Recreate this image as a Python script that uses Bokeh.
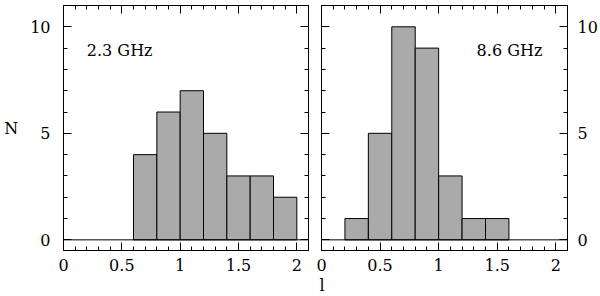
from bokeh.plotting import figure
from bokeh.layouts import row
from bokeh.models import Range1d, FixedTicker, LinearAxis, Span, Label, Title, ColumnDataSource
from bokeh.embed import file_html
from bokeh.resources import INLINE

# ---- data ----
bin_left = [0.0, 0.2, 0.4, 0.6, 0.8, 1.0, 1.2, 1.4, 1.6, 1.8]
bin_right = [0.2, 0.4, 0.6, 0.8, 1.0, 1.2, 1.4, 1.6, 1.8, 2.0]
counts_23 = [0, 0, 0, 4, 6, 7, 5, 3, 3, 2]
counts_86 = [0, 1, 5, 10, 9, 3, 1, 1, 0, 0]
panel_titles = ["2.3 GHz", "8.6 GHz"]

x_major = [0, 0.5, 1, 1.5, 2]
x_major_labels = ["0", "0.5", "1", "1.5", "2"]
x_minor = [0.1, 0.2, 0.3, 0.4, 0.6, 0.7, 0.8, 0.9, 1.1, 1.2, 1.3, 1.4,
           1.6, 1.7, 1.8, 1.9, 2.1]
y_major = [0, 5, 10]
y_major_labels = ["0", "5", "10"]
y_minor = [1, 2, 3, 4, 6, 7, 8, 9, 11]

FONT = "DejaVu Serif"
FILL = "#aaaaaa"
H = 296


def style_axis(ax, ticks, labels, minor, show, standoff):
    ax.ticker = FixedTicker(ticks=ticks, minor_ticks=minor)
    ax.major_label_overrides = {t: l for t, l in zip(ticks, labels)}
    ax.major_tick_in = 8
    ax.major_tick_out = 0
    ax.minor_tick_in = 4
    ax.minor_tick_out = 0
    ax.axis_line_color = "black"
    ax.major_tick_line_color = "black"
    ax.minor_tick_line_color = "black"
    ax.major_label_text_font = FONT
    ax.major_label_text_font_size = "16px"
    if show:
        ax.major_label_text_color = "black"
        ax.major_label_standoff = standoff
    else:
        ax.major_label_text_color = None
        ax.major_label_standoff = 0


def make_panel(counts, title, width, mbl, mbr, left_labels, right_labels, title_x, title_align):
    p = figure(width=width, height=H,
               x_range=Range1d(0, 2.1), y_range=Range1d(-0.5, 11),
               output_backend="svg", toolbar_location=None,
               min_border_left=mbl, min_border_right=mbr,
               min_border_top=5, min_border_bottom=46)
    p.xgrid.visible = False
    p.ygrid.visible = False
    p.outline_line_color = "black"
    p.background_fill_color = "white"
    p.border_fill_color = "white"

    style_axis(p.xaxis[0], x_major, x_major_labels, x_minor, True, 8)
    style_axis(p.yaxis[0], y_major, y_major_labels, y_minor, left_labels, 13)

    top = LinearAxis()
    style_axis(top, x_major, x_major_labels, x_minor, False, 0)
    p.add_layout(top, "above")
    right = LinearAxis()
    style_axis(right, y_major, y_major_labels, y_minor, right_labels, 10)
    p.add_layout(right, "right")

    L = [l for l, c in zip(bin_left, counts) if c > 0]
    R = [r for r, c in zip(bin_right, counts) if c > 0]
    T = [c for c in counts if c > 0]
    src = ColumnDataSource(dict(left=L, right=R, top=T, bottom=[0] * len(T)))
    p.quad(left="left", right="right", top="top", bottom="bottom", source=src,
           fill_color=FILL, line_color="black", line_width=1)
    p.add_layout(Span(location=0, dimension="width", line_color="black", line_width=1))

    p.add_layout(Label(x=title_x, y=8.9, text=title, text_align=title_align,
                       text_baseline="alphabetic", text_font=FONT,
                       text_font_size="16px", text_color="black"))
    return p


p1 = make_panel(counts_23, panel_titles[0], 314, 63, 6, True, False, 0.2, "left")
p1.yaxis[0].axis_label = "N"
p1.yaxis[0].axis_label_orientation = "horizontal"
p1.yaxis[0].axis_label_text_font = FONT
p1.yaxis[0].axis_label_text_font_size = "16px"
p1.yaxis[0].axis_label_text_font_style = "normal"
p1.yaxis[0].axis_label_text_color = "black"
p1.yaxis[0].axis_label_standoff = 9

p2 = make_panel(counts_86, panel_titles[1], 286, 7, 33, False, True, 1.885, "right")
p2.add_layout(Title(text="l", align="left", offset=-2, standoff=0,
                    text_font=FONT, text_font_size="16px",
                    text_font_style="normal", text_color="black"), "below")

layout = row(p1, p2)
open("out.html", "w").write(file_html(layout, INLINE))
